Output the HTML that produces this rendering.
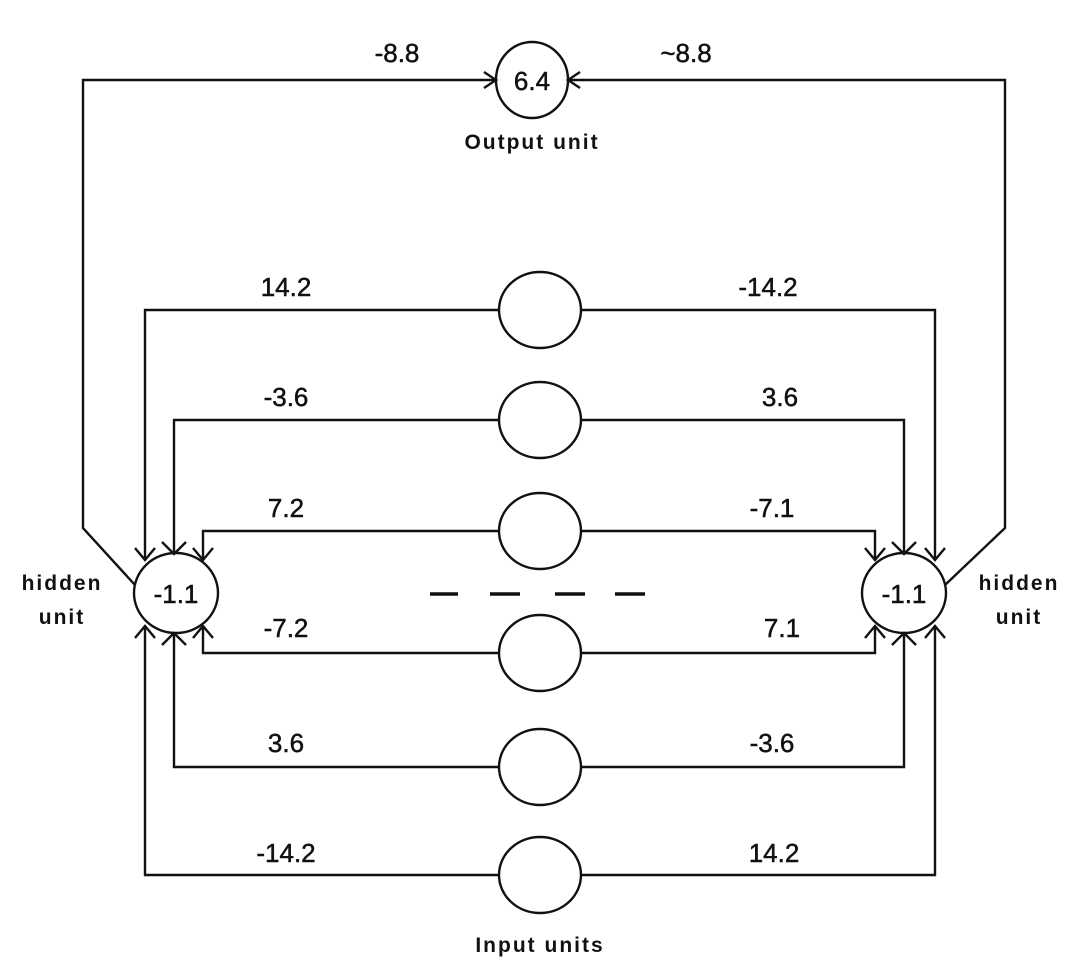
<!DOCTYPE html>
<html><head><style>
html,body{margin:0;padding:0;background:#fff;}
svg{display:block;}
text{font-family:"Liberation Sans",sans-serif;fill:#111;}
.l{font-size:26px;text-anchor:middle;stroke:#111;stroke-width:0.5px;}
.b{font-size:21px;font-weight:bold;text-anchor:middle;letter-spacing:2px;}
</style></head><body>
<svg width="1080" height="968" viewBox="0 0 1080 968" xmlns="http://www.w3.org/2000/svg">
<g fill="none" stroke="#111" stroke-width="2.4">
<ellipse cx="532" cy="80" rx="36" ry="38"/>
<polyline points="135,585 83,528 83,80 496,80"/>
<polyline points="945,585 1005,528 1005,80 568,80"/>
<polyline points="484,72 496,80 484,88"/>
<polyline points="580,72 568,80 580,88"/>
<ellipse cx="176" cy="593" rx="42" ry="40"/>
<ellipse cx="904" cy="593" rx="42" ry="40"/>
<ellipse cx="540" cy="310" rx="41" ry="38"/>
<ellipse cx="540" cy="420" rx="41" ry="38"/>
<ellipse cx="540" cy="531" rx="41" ry="38"/>
<ellipse cx="540" cy="653" rx="41" ry="38"/>
<ellipse cx="540" cy="767" rx="41" ry="38"/>
<ellipse cx="540" cy="875" rx="41" ry="38"/>
<polyline points="499,310 145,310 145,560"/>
<polyline points="499,420 174,420 174,554"/>
<polyline points="499,531 203,531 203,560"/>
<polyline points="499,653 203,653 203,626"/>
<polyline points="499,767 174,767 174,633"/>
<polyline points="499,875 145,875 145,626"/>
<polyline points="581,310 935,310 935,560"/>
<polyline points="581,420 904,420 904,554"/>
<polyline points="581,531 875,531 875,560"/>
<polyline points="581,653 875,653 875,626"/>
<polyline points="581,767 904,767 904,633"/>
<polyline points="581,875 935,875 935,626"/>
<polyline points="135,548 145,560 155,548"/>
<polyline points="162,542 174,554 186,542"/>
<polyline points="193,548 203,560 213,548"/>
<polyline points="865,548 875,560 885,548"/>
<polyline points="892,542 904,554 916,542"/>
<polyline points="925,548 935,560 945,548"/>
<polyline points="135,638 145,626 155,638"/>
<polyline points="162,645 174,633 186,645"/>
<polyline points="193,638 203,626 213,638"/>
<polyline points="865,638 875,626 885,638"/>
<polyline points="892,645 904,633 916,645"/>
<polyline points="925,638 935,626 945,638"/>
</g>
<g stroke="#111" stroke-width="3.5">
<line x1="430" y1="594" x2="458" y2="594"/>
<line x1="490" y1="594" x2="520" y2="594"/>
<line x1="555" y1="594" x2="585" y2="594"/>
<line x1="615" y1="594" x2="645" y2="594"/>
</g>
<text class="l" x="532" y="90">6.4</text>
<text class="l" x="176" y="603">-1.1</text>
<text class="l" x="904" y="603">-1.1</text>
<text class="l" x="397" y="62">-8.8</text>
<text class="l" x="686" y="62">~8.8</text>
<text class="b" x="532" y="149">Output unit</text>
<text class="b" x="540" y="952">Input units</text>
<text class="b" x="62" y="590">hidden</text>
<text class="b" x="62" y="624">unit</text>
<text class="b" x="1019" y="590">hidden</text>
<text class="b" x="1019" y="624">unit</text>
<text class="l" x="286" y="296">14.2</text>
<text class="l" x="286" y="406">-3.6</text>
<text class="l" x="286" y="517">7.2</text>
<text class="l" x="286" y="637">-7.2</text>
<text class="l" x="286" y="752">3.6</text>
<text class="l" x="286" y="862">-14.2</text>
<text class="l" x="768" y="296">-14.2</text>
<text class="l" x="780" y="406">3.6</text>
<text class="l" x="772" y="517">-7.1</text>
<text class="l" x="782" y="637">7.1</text>
<text class="l" x="772" y="752">-3.6</text>
<text class="l" x="774" y="862">14.2</text>
</svg>
</body></html>
